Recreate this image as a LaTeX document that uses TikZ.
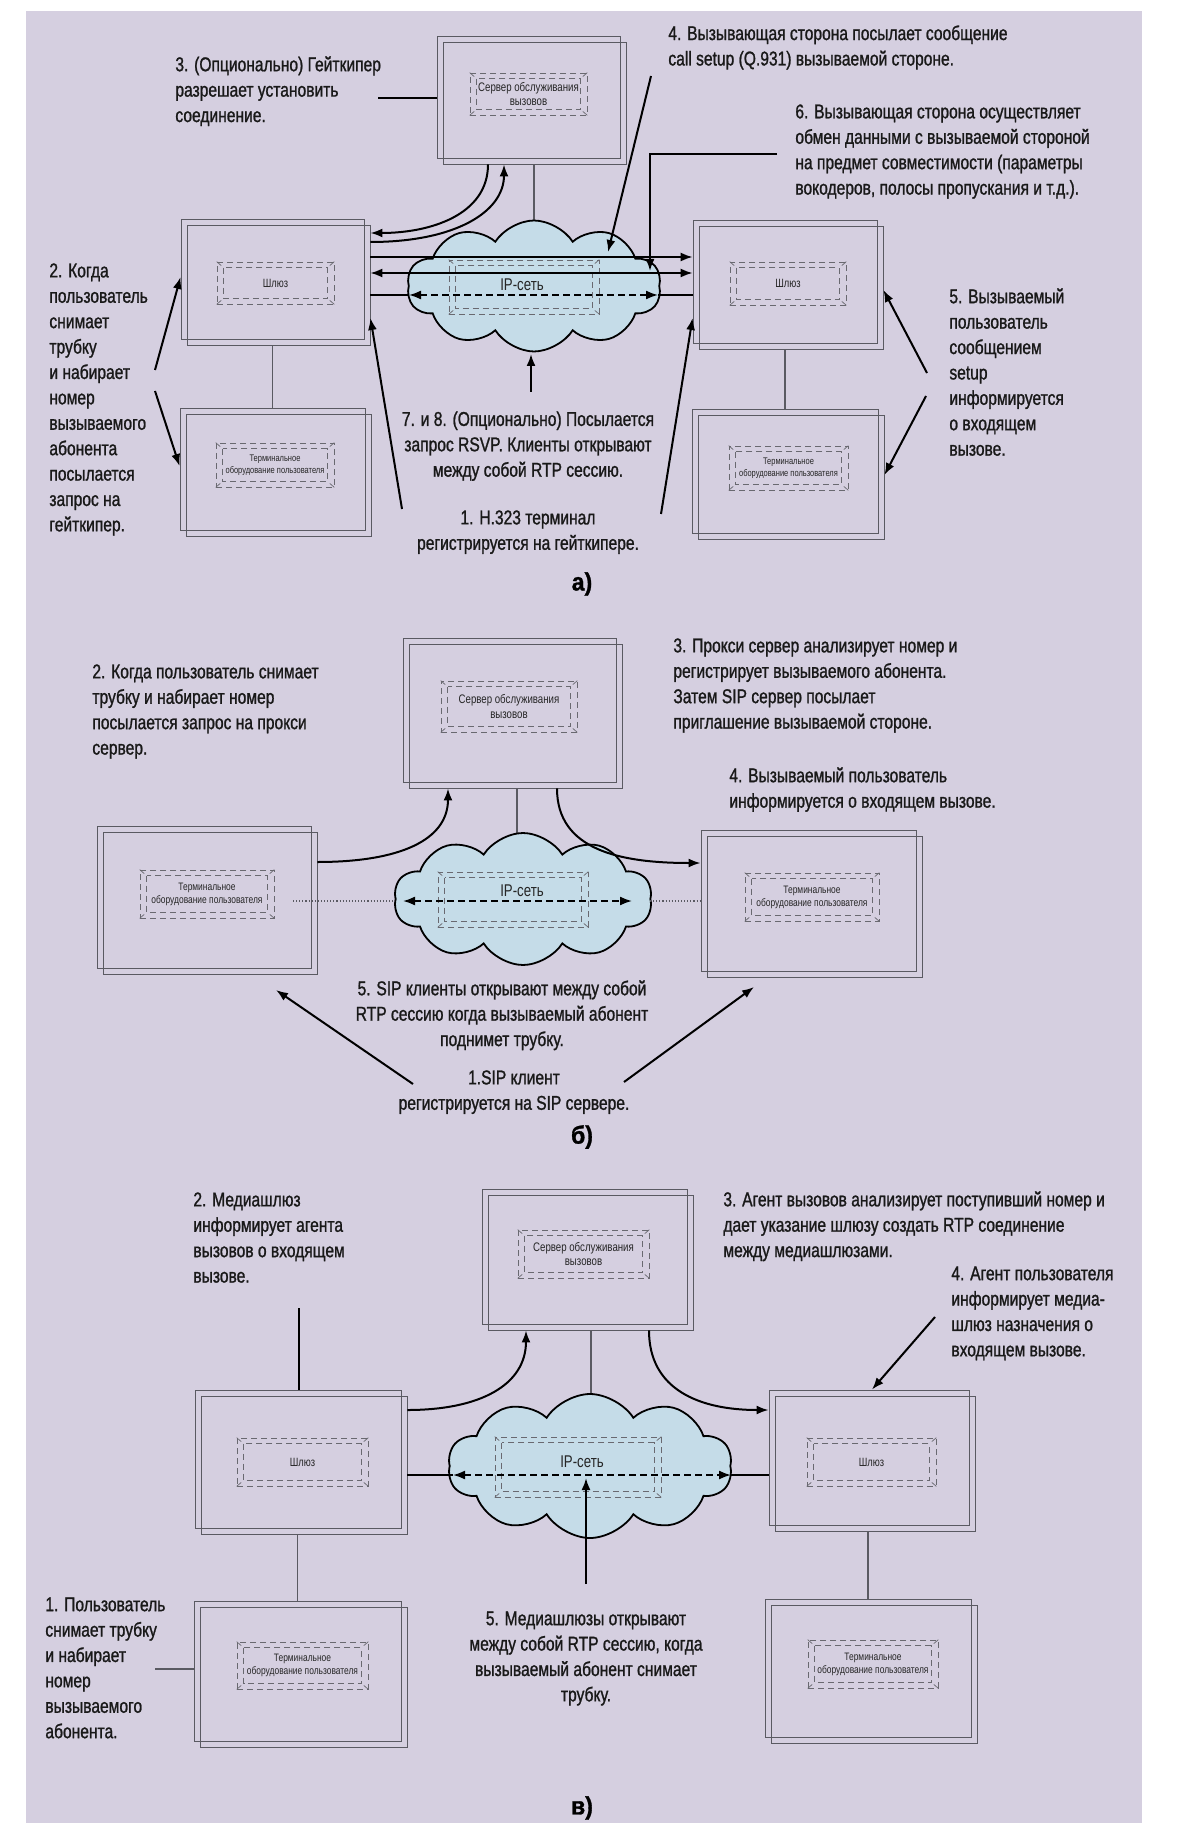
\documentclass[tikz,border=0pt]{standalone}
\usepackage{fontspec}
\setmainfont{Liberation Sans}[FakeStretch=0.78]
\newfontfamily\lblfont{Liberation Sans}[FakeStretch=0.78,FakeBold=1.1]
\newfontfamily\panfont{Liberation Sans Bold}[FakeStretch=0.92,FakeBold=1.2]
\usetikzlibrary{arrows.meta,shapes.symbols,fit}
\definecolor{bgcol}{RGB}{213,207,224}
\definecolor{cloudcol}{RGB}{197,220,232}
\definecolor{boxgray}{RGB}{90,90,98}
\definecolor{bevgray}{RGB}{105,105,112}
\newcommand\labf{\lblfont\fontsize{10}{12.7}\selectfont}
\newcommand\srvf{\fontsize{6.2}{7.2}\selectfont}
\newcommand\gwf{\fontsize{6}{7}\selectfont}
\newcommand\tmfa{\fontsize{4.8}{5.8}\selectfont}
\newcommand\tmfb{\fontsize{5.4}{6.4}\selectfont}
\newcommand\ipf{\fontsize{8.5}{10}\selectfont}
\tikzset{
  boxn/.style={draw=boxgray, line width=0.45pt, inner sep=0pt, rectangle},
  bevn/.style={draw=bevgray, densely dashed, line width=0.35pt, inner sep=0pt, rectangle},
  bevl/.style={draw=bevgray, densely dashed, line width=0.35pt},
  inl/.style={inner sep=0pt, align=center, text=black!85},
  link/.style={draw=boxgray, line width=0.55pt},
  dlink/.style={draw=boxgray, line width=0.55pt, densely dotted},
  arr/.style={draw=black, line width=1pt, ->},
  hl/.style={draw=black, line width=0.8pt},
  dsh/.style={draw=black, line width=0.9pt, dash pattern=on 3.5pt off 2pt, <->},
  bar/.style={draw=black, line width=1pt},
  lab/.style={anchor=north west, align=left, inner sep=0pt, font=\labf, text=black!90},
  labc/.style={anchor=north, align=center, inner sep=0pt, font=\labf, text=black!90},
  panel/.style={inner sep=0pt, font=\panfont\fontsize{12.5}{14}\selectfont},
  cloudn/.style={cloud, cloud puffs=10, cloud puff arc=115, aspect=1.9, draw=black, line width=0.9pt, fill=cloudcol, inner sep=0pt},
}
\newcommand\dblbox[5]{%
  \node[boxn,fit={(#2,#3) (#4,#5)}] (#1) {};
  \node[boxn,fit={(#2+6,#3+6) (#4+6,#5+6)}] (#1b) {};}
\newcommand\bevbox[7]{%
  \node[bevn,fit={(#2,#3) (#4,#5)}] (#1) {};
  \draw[bevl] ([shift={(7,6)}]#1.north west) rectangle ([shift={(-7,-6)}]#1.south east);
  \draw[bevl] (#1.north west) -- ([shift={(7,6)}]#1.north west)
    (#1.north east) -- ([shift={(-7,6)}]#1.north east)
    (#1.south west) -- ([shift={(7,-6)}]#1.south west)
    (#1.south east) -- ([shift={(-7,-6)}]#1.south east);
  \node[inl,font=#6] (#1t) at (#1.center) {#7};}
\begin{document}
\begin{tikzpicture}[x=0.5pt,y=-0.5pt,>={Latex[length=6pt,width=4.5pt]}]
\useasboundingbox (0,0) rectangle (1185,1823);
\fill[white] (0,0) rectangle (1185,1823);
\fill[bgcol] (26,11) rectangle (1142,1823);

% ================= a) =================
\dblbox{srvA}{437}{36}{620}{158}
\bevbox{srvAi}{470}{73}{587}{115}{\srvf}{Сервер обслуживания\\вызовов}
\dblbox{gwAL}{181}{219}{364}{339}
\bevbox{gwALi}{217}{262}{334}{304}{\gwf}{Шлюз}
\dblbox{tmAL}{180}{408}{365}{530}
\bevbox{tmALi}{216}{443}{334}{487}{\tmfa}{Терминальное\\оборудование пользователя}
\dblbox{gwAR}{693}{220}{877}{343}
\bevbox{gwARi}{730}{262}{846}{305}{\gwf}{Шлюз}
\dblbox{tmAR}{692}{409}{878}{533}
\bevbox{tmARi}{729}{446}{848}{490}{\tmfa}{Терминальное\\оборудование пользователя}

\draw[link] (srvAb.south -| 534,0) -- (534,224);
\node[cloudn, minimum width=127pt, minimum height=65.5pt] (cloudA) at (534,286) {};
\bevbox{ipAi}{449}{260}{599}{314}{\ipf}{}
\node[inl,font=\ipf] (ipAt) at (522,285) {IP-сеть};
\draw[link] (gwALb.south -| tmAL.north) -- (tmAL.north);
\draw[link] (gwARb.south -| tmAR.north) -- (tmAR.north);

\draw[arr] (srvAb.south -| 488,0) .. controls (488,215) and (430,233) .. (gwALb.east |- 0,233);
\draw[arr] (gwALb.east |- 0,242) .. controls (455,242) and (504,212) .. (srvAb.south -| 504,0);
\draw[hl,->] (gwALb.east |- 0,257) -- (gwAR.west |- 0,257);
\draw[hl,<->] (gwALb.east |- 0,273) -- (gwAR.west |- 0,273);
\coordinate (dA1) at (409,295);
\coordinate (dA2) at (658,295);
\draw[hl] (gwALb.east |- 0,295) -- (dA1);
\draw[dsh] (dA1) -- (dA2);
\draw[hl] (dA2) -- (gwAR.west |- 0,295);

\node[lab] (l3a) at (175,56) {3. (Опционально) Гейткипер\\разрешает установить\\соединение.};
\coordinate (p3a) at (378,98);
\draw[bar] (p3a) -- (srvA.west |- 0,98);

\node[lab] (l4a) at (668,25) {4. Вызывающая сторона посылает сообщение\\call setup (Q.931) вызываемой стороне.};
\coordinate (p4a) at (651,76);
\coordinate (q4a) at (608,252);
\draw[arr] (p4a) -- (q4a);

\node[lab] (l6a) at (795,104) {6. Вызывающая сторона осуществляет\\обмен данными с вызываемой стороной\\на предмет совместимости (параметры\\вокодеров, полосы пропускания и т.д.).};
\coordinate (p6a) at (777,154);
\coordinate (q6a) at (650,271);
\draw[arr] (p6a) -| (q6a);

\node[lab] (l5a) at (949,288) {5. Вызываемый\\пользователь\\сообщением\\setup\\информируется\\о входящем\\вызове.};
\coordinate (p5a1) at (927,373);
\coordinate (p5a2) at (926,396);
\draw[arr] (p5a1) -- (gwARb.east |- 0,290);
\draw[arr] (p5a2) -- (tmARb.east |- 0,475);

\node[lab] (l2a) at (49,263) {2. Когда\\пользователь\\снимает\\трубку\\и набирает\\номер\\вызываемого\\абонента\\посылается\\запрос на\\гейткипер.};
\coordinate (p2a1) at (155,370);
\coordinate (p2a2) at (155,391);
\draw[arr] (p2a1) -- (gwAL.west |- 0,277);
\draw[arr] (p2a2) -- (tmAL.west |- 0,466);

\node[labc] (l7a) at (528,411) {7. и 8. (Опционально) Посылается\\запрос RSVP. Клиенты открывают\\между собой RTP сессию.};
\coordinate (p7a) at (531,392);
\coordinate (q7a) at (531,354);
\draw[arr] (p7a) -- (q7a);

\node[labc] (l1a) at (528,510) {1. H.323 терминал\\регистрируется на гейткипере.};
\coordinate (p1a1) at (402,509);
\coordinate (p1a2) at (661,514);
\draw[arr] (p1a1) -- (gwALb.east |- 0,318);
\draw[arr] (p1a2) -- (gwAR.west |- 0,318);

\node[panel] (pa) at (582,584) {а)};

% ================= б) =================
\dblbox{srvB}{403}{638}{616}{782}
\bevbox{srvBi}{441}{681}{577}{732}{\srvf}{Сервер обслуживания\\вызовов}
\dblbox{tmBL}{97}{826}{311}{968}
\bevbox{tmBLi}{140}{870}{274}{918}{\tmfb}{Терминальное\\оборудование пользователя}
\dblbox{tmBR}{701}{830}{916}{971}
\bevbox{tmBRi}{745}{873}{879}{921}{\tmfb}{Терминальное\\оборудование пользователя}

\draw[link] (srvBb.south -| 517,0) -- (517,836);
\node[cloudn, minimum width=129pt, minimum height=66pt] (cloudB) at (523,899) {};
\bevbox{ipBi}{438}{872}{588}{927}{\ipf}{}
\node[inl,font=\ipf] (ipBt) at (522,891) {IP-сеть};
\coordinate (lB1) at (293,901);
\coordinate (lB2) at (395,901);
\coordinate (dB1) at (403,901);
\coordinate (dB2) at (632,901);
\coordinate (lB3) at (650,901);
\draw[dlink] (lB1) -- (lB2);
\draw[dsh] (dB1) -- (dB2);
\draw[dlink] (lB3) -- (tmBR.west |- 0,901);

\draw[arr] (tmBLb.east |- 0,862) .. controls (400,862) and (448,840) .. (srvBb.south -| 448,0);
\draw[arr] (srvBb.south -| 557,0) .. controls (557,850) and (620,863) .. (tmBR.west |- 0,863);

\node[lab] (l2b) at (92,664) {2. Когда пользователь снимает\\трубку и набирает номер\\посылается запрос на прокси\\сервер.};
\node[lab] (l3b) at (673,638) {3. Прокси сервер анализирует номер и\\регистрирует вызываемого абонента.\\Затем SIP сервер посылает\\приглашение вызываемой стороне.};
\node[lab] (l4b) at (729,767) {4. Вызываемый пользователь\\информируется о входящем вызове.};
\node[labc] (l5b) at (502,980) {5. SIP клиенты открывают между собой\\RTP сессию когда вызываемый абонент\\поднимет трубку.};
\node[labc] (l1b) at (514,1070) {1.SIP клиент\\регистрируется на SIP сервере.};
\coordinate (p1b1) at (413,1084);
\coordinate (q1b1) at (276,990);
\coordinate (p1b2) at (624,1082);
\coordinate (q1b2) at (754,987);
\draw[arr] (p1b1) -- (q1b1);
\draw[arr] (p1b2) -- (q1b2);
\node[panel] (pb) at (582,1137) {б)};

% ================= в) =================
\dblbox{srvC}{482}{1189}{687}{1324}
\bevbox{srvCi}{518}{1230}{649}{1278}{\srvf}{Сервер обслуживания\\вызовов}
\dblbox{gwCL}{195}{1390}{401}{1528}
\bevbox{gwCLi}{237}{1438}{368}{1486}{\gwf}{Шлюз}
\dblbox{gwCR}{769}{1390}{969}{1525}
\bevbox{gwCRi}{807}{1438}{936}{1486}{\gwf}{Шлюз}
\dblbox{tmCL}{194}{1601}{401}{1741}
\bevbox{tmCLi}{237}{1642}{368}{1689}{\tmfb}{Терминальное\\оборудование пользователя}
\dblbox{tmCR}{765}{1599}{971}{1737}
\bevbox{tmCRi}{808}{1640}{938}{1688}{\tmfb}{Терминальное\\оборудование пользователя}

\draw[link] (srvCb.south -| 591,0) -- (591,1398);
\node[cloudn, minimum width=142pt, minimum height=72pt] (cloudC) at (590,1466) {};
\bevbox{ipCi}{495}{1437}{661}{1497}{\ipf}{}
\node[inl,font=\ipf] (ipCt) at (582,1462) {IP-сеть};
\draw[link] (gwCLb.south -| tmCL.north) -- (tmCL.north);
\draw[link] (gwCRb.south -| tmCR.north) -- (tmCR.north);

\coordinate (dC1) at (453,1475);
\coordinate (dC2) at (731,1475);
\draw[hl] (gwCLb.east |- 0,1475) -- (dC1);
\draw[dsh] (dC1) -- (dC2);
\draw[hl] (dC2) -- (gwCR.west |- 0,1475);

\draw[arr] (gwCLb.east |- 0,1410) .. controls (480,1410) and (526,1385) .. (srvCb.south -| 526,0);
\draw[arr] (srvCb.south -| 649,0) .. controls (649,1390) and (700,1410) .. (gwCR.west |- 0,1410);

\node[lab] (l2c) at (193,1192) {2. Медиашлюз\\информирует агента\\вызовов о входящем\\вызове.};
\coordinate (p2c) at (299,1308);
\draw[bar] (p2c) -- (gwCL.north -| 299,0);

\node[lab] (l3c) at (723,1191) {3. Агент вызовов анализирует поступивший номер и\\дает указание шлюзу создать RTP соединение\\между медиашлюзами.};

\node[lab] (l4c) at (951,1266) {4. Агент пользователя\\информирует медиа-\\шлюз назначения о\\входящем вызове.};
\coordinate (p4c) at (935,1317);
\draw[arr] (p4c) -- (gwCR.north -| 872,0);

\node[lab] (l1c) at (45,1597) {1. Пользователь\\снимает трубку\\и набирает\\номер\\вызываемого\\абонента.};
\coordinate (p1c) at (155,1669);
\draw[link] (p1c) -- (tmCL.west |- 0,1669);

\node[labc] (l5c) at (586,1611) {5. Медиашлюзы открывают\\между собой RTP сессию, когда\\вызываемый абонент снимает\\трубку.};
\coordinate (p5c) at (586,1584);
\coordinate (q5c) at (586,1478);
\draw[arr] (p5c) -- (q5c);

\node[panel] (pc) at (582,1808) {в)};
\end{tikzpicture}
\end{document}
